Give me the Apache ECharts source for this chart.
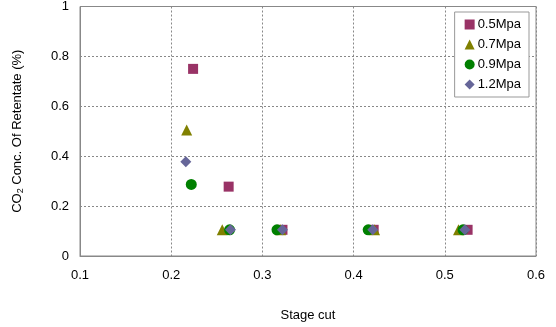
<!DOCTYPE html>
<html>
<head>
<meta charset="utf-8">
<script src="https://cdn.jsdelivr.net/npm/echarts@6/dist/echarts.min.js"></script>
<style>
html,body{margin:0;padding:0;background:#fff;}
#chart{width:556px;height:327px;}
</style>
</head>
<body>
<div id="chart"></div>
<script>
// Stage cut vs. CO2 concentration of retentate at several feed pressures
const seriesNames = ['0.5Mpa', '0.7Mpa', '0.9Mpa', '1.2Mpa'];
const p05 = [[0.224, 0.75], [0.263, 0.278], [0.322, 0.105], [0.422, 0.105], [0.525, 0.105]];
const p07 = [[0.217, 0.505], [0.256, 0.105], [0.320, 0.105], [0.423, 0.105], [0.515, 0.105]];
const p09 = [[0.222, 0.287], [0.264, 0.105], [0.316, 0.105], [0.416, 0.105], [0.520, 0.105]];
const p12 = [[0.216, 0.378], [0.265, 0.105], [0.322, 0.105], [0.421, 0.105], [0.522, 0.105]];
const xTicks = [0.1, 0.2, 0.3, 0.4, 0.5, 0.6];
const yTicks = [0, 0.2, 0.4, 0.6, 0.8, 1];

const colors = ['#993366', '#808000', '#008000', '#666699'];
const symbols = ['rect', 'triangle', 'circle', 'diamond'];
const sizes = [10, 11, 11, 11];
const dataSets = [p05, p07, p09, p12];
const font = 'Liberation Sans, Arial, sans-serif';

const chart = echarts.init(document.getElementById('chart'));
chart.setOption({
  animation: false,
  grid: {left: 80, right: 20, top: 5, bottom: 71, show: true, borderColor: '#888', borderWidth: 1},
  legend: {
    orient: 'vertical', right: 27, top: 12,
    data: seriesNames,
    backgroundColor: '#fff', borderColor: '#999', borderWidth: 1,
    padding: [6, 8, 6, 10], itemGap: 7, itemWidth: 10, itemHeight: 10,
    textStyle: {fontFamily: font, fontSize: 13, color: '#000', padding: [0, 0, 0, -2]}
  },
  xAxis: {
    type: 'value', min: xTicks[0], max: xTicks[xTicks.length - 1], interval: 0.1,
    name: 'Stage cut', nameLocation: 'middle', nameGap: 53,
    nameTextStyle: {fontFamily: font, fontSize: 13, color: '#000'},
    axisLine: {show: true, lineStyle: {color: '#888'}},
    axisTick: {show: false},
    axisLabel: {fontFamily: font, fontSize: 13, color: '#000', margin: 13, formatter: v => String(+v.toFixed(1))},
    splitLine: {show: true, lineStyle: {color: '#888', type: [2, 2]}}
  },
  yAxis: {
    type: 'value', min: yTicks[0], max: yTicks[yTicks.length - 1], interval: 0.2,
    name: 'CO{s|2} Conc. Of Retentate (%)', nameLocation: 'middle', nameGap: 55,
    nameTextStyle: {fontFamily: font, fontSize: 13, color: '#000', rich: {s: {fontFamily: font, fontSize: 9, color: '#000', verticalAlign: 'bottom', padding: [6, 0, 0, 0]}}},
    axisLine: {show: true, lineStyle: {color: '#888'}},
    axisTick: {show: false},
    axisLabel: {fontFamily: font, fontSize: 13, color: '#000', margin: 11, formatter: v => String(+v.toFixed(1))},
    splitLine: {show: true, lineStyle: {color: '#888', type: [2, 2]}}
  },
  series: seriesNames.map((n, i) => ({
    name: n, type: 'scatter', data: dataSets[i],
    symbol: symbols[i], symbolSize: sizes[i],
    itemStyle: {color: colors[i], opacity: 1}
  }))
});
</script>
</body>
</html>
